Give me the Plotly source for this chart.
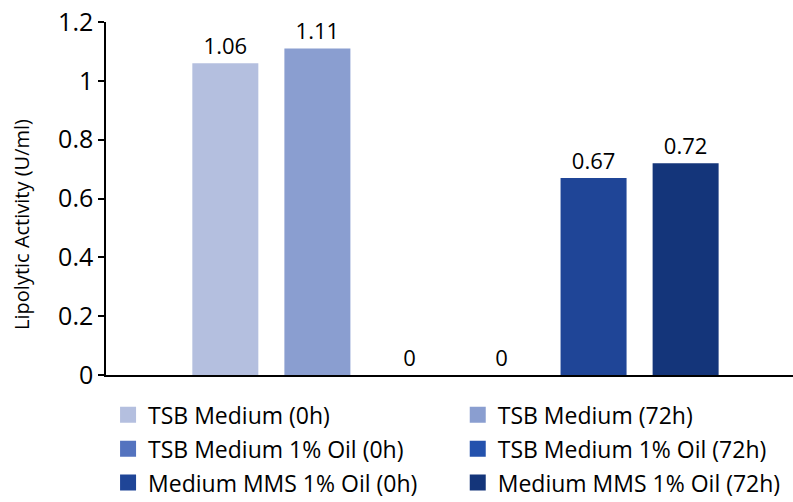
import plotly.graph_objects as go

# Lipolytic activity per culture condition
conditions = [
    "TSB Medium (0h)",
    "TSB Medium (72h)",
    "TSB Medium 1% Oil (0h)",
    "TSB Medium 1% Oil (72h)",
    "Medium MMS 1% Oil (0h)",
    "Medium MMS 1% Oil (72h)",
]
activity = [1.06, 1.11, 0, 0, 0.67, 0.72]
colors = ["#B4BFDF", "#8A9ED0", "#5473BF", "#2452AD", "#1F4597", "#14357A"]
category = [""]
y_title = "Lipolytic Activity (U/ml)"

FONT = "'Open Sans', sans-serif"

fig = go.Figure()

# bars, grouped in a single category
for name, val, col in zip(conditions, activity, colors):
    fig.add_trace(go.Bar(
        x=category,
        y=[val],
        name=name,
        marker=dict(color=col, line=dict(width=0)),
        text=[f"{val:g}"],
        textposition="outside",
        textfont=dict(size=22, color="#000000", family=FONT),
        cliponaxis=False,
        showlegend=False,
    ))

# legend keys: two columns, three rows, filled squares
for i, (name, col) in enumerate(zip(conditions, colors)):
    fig.add_trace(go.Scatter(
        x=[None],
        y=[None],
        mode="markers",
        name=name,
        marker=dict(symbol="square", size=16, color=col),
        legend="legend" if i % 2 == 0 else "legend2",
        legendgroup=name,
        showlegend=True,
        hoverinfo="skip",
    ))

legend_style = dict(
    orientation="v",
    yanchor="top",
    y=-0.052,
    xanchor="left",
    font=dict(size=23, family=FONT, color="#000000"),
    itemsizing="trace",
    tracegroupgap=1,
    bgcolor="rgba(0,0,0,0)",
)

fig.update_layout(
    width=793,
    height=502,
    margin=dict(l=106, r=0, t=22, b=127, autoexpand=False),
    paper_bgcolor="white",
    plot_bgcolor="white",
    barmode="group",
    bargap=0.196,
    bargroupgap=0.283,
    font=dict(family=FONT, color="#000000"),
    showlegend=True,
    legend=dict(x=0.003, **legend_style),
    legend2=dict(x=0.512, **legend_style),
    xaxis=dict(
        type="category",
        range=[-0.5087, 0.4913],
        showticklabels=False,
        ticks="",
        showline=True,
        linecolor="#000000",
        linewidth=1.5,
        showgrid=False,
        zeroline=False,
    ),
    yaxis=dict(
        range=[0, 1.2],
        dtick=0.2,
        tickformat="~g",
        ticks="outside",
        ticklen=6,
        tickwidth=1.5,
        tickcolor="#000000",
        showline=True,
        linecolor="#000000",
        linewidth=1.5,
        showgrid=False,
        zeroline=False,
        tickfont=dict(size=25, family=FONT, color="#000000"),
    ),
    annotations=[dict(
        text=y_title,
        xref="paper", yref="paper",
        x=-0.1223, y=0.428,
        xanchor="center", yanchor="middle",
        textangle=-90,
        showarrow=False,
        font=dict(size=20, family=FONT, color="#000000"),
    )],
)

fig.write_html("out.html")
